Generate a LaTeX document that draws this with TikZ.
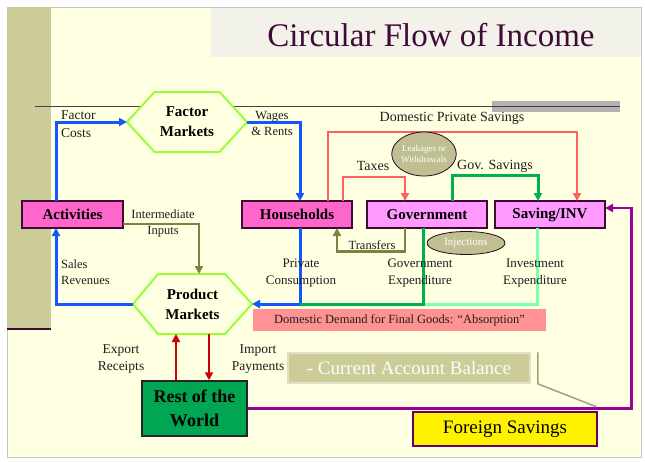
\documentclass[tikz,border=0pt]{standalone}
\usepackage{fontspec}
\setmainfont{Liberation Serif}
\usetikzlibrary{arrows.meta,shapes.geometric,backgrounds}

\definecolor{bg}{RGB}{255,255,225}
\definecolor{barc}{RGB}{204,204,153}
\definecolor{titlebg}{RGB}{242,242,234}
\definecolor{titlec}{RGB}{64,10,56}
\definecolor{rulec}{RGB}{96,48,80}
\definecolor{blue1}{RGB}{20,85,255}
\definecolor{hexc}{RGB}{153,255,51}
\definecolor{mag1}{RGB}{255,102,204}
\definecolor{mag2}{RGB}{255,153,255}
\definecolor{dpurple}{RGB}{60,10,50}
\definecolor{red1}{RGB}{255,96,96}
\definecolor{green1}{RGB}{0,176,80}
\definecolor{green2}{RGB}{120,255,176}
\definecolor{olive1}{RGB}{128,128,64}
\definecolor{pink1}{RGB}{255,147,147}
\definecolor{khaki}{RGB}{204,204,153}
\definecolor{ellc}{RGB}{191,191,145}
\definecolor{rowc}{RGB}{0,166,81}
\definecolor{purp}{RGB}{153,0,153}
\definecolor{fsb}{RGB}{102,0,102}
\definecolor{darkred}{RGB}{204,0,0}
\definecolor{ptr}{RGB}{160,160,130}
\definecolor{txt}{RGB}{30,30,30}

\tikzset{
  lbl/.style={font=\fontsize{13}{16}\selectfont, align=center, inner sep=0pt, text=txt},
  lbll/.style={font=\fontsize{13}{16}\selectfont, align=left, inner sep=0pt, text=txt},
  boxm/.style={draw=dpurple, line width=1.5pt, fill=mag1, minimum height=27pt, inner sep=0pt, outer sep=0pt,
     font=\bfseries\fontsize{15}{18}\selectfont},
  boxv/.style={boxm, fill=mag2},
  hexnode/.style={inner sep=0pt, outer sep=0pt, minimum height=60pt, align=center,
     font=\bfseries\fontsize{15}{20}\selectfont},
  hexline/.style={draw=hexc, line width=2pt, fill=bg, line join=miter},
  tip/.style={-{Triangle[length=8pt,width=8pt]}},
  bluel/.style={tip, draw=blue1, line width=3pt},
  olivel/.style={tip, draw=olive1, line width=2.5pt},
  redl/.style={tip, draw=red1, line width=2.5pt},
  greenl/.style={tip, draw=green1, line width=3pt},
  lgreenl/.style={draw=green2, line width=3pt},
  redarrow/.style={tip, draw=darkred, line width=2pt},
  purpl/.style={tip, draw=purp, line width=2.5pt},
  ptrl/.style={draw=ptr, line width=1.5pt},
  ell/.style={ellipse, draw=dpurple!70!black, line width=0.8pt, fill=ellc, inner sep=0pt, text=white, align=center}
}

\begin{document}
\begin{tikzpicture}[x=1pt,y=-1pt]
\useasboundingbox (0,0) rectangle (645,461);

% ---- hexagon text nodes
\node[hexnode, minimum width=120pt] (fm) at (187,122) {Factor\\Markets};
\node[hexnode, minimum width=119pt] (pm) at (192.5,304) {Product\\Markets};

\begin{scope}[on background layer]
  \fill[white] (0,0) rectangle (645,461);
  \draw[fill=bg, draw=gray!45, line width=1pt] (7,7) rectangle (641,457);
  \fill[barc] (7,7) rectangle (51,328);
  \draw[dpurple, line width=2.5pt] (7,329) -- (51,329);
  \fill[titlebg] (211,7.5) rectangle (640.5,57);
  \fill[gray!60] (492,101) rectangle (620,112);
  \draw[rulec, line width=1pt] (35,106) -- (620,106);
  \draw[hexline] (fm.west) -- ([xshift=27.5pt]fm.north west) -- ([xshift=-27.5pt]fm.north east)
     -- (fm.east) -- ([xshift=-27.5pt]fm.south east) -- ([xshift=27.5pt]fm.south west) -- cycle;
  \draw[hexline] (pm.west) -- ([xshift=25pt]pm.north west) -- ([xshift=-27pt]pm.north east)
     -- (pm.east) -- ([xshift=-27pt]pm.south east) -- ([xshift=25pt]pm.south west) -- cycle;
\end{scope}

\node[text=titlec, font=\fontsize{33}{38}\selectfont, inner sep=0pt] (title) at (431,35) {Circular Flow of Income};

% ---- boxes
\node[boxm, minimum width=101pt] (act) at (72.5,214.5) {Activities};
\node[boxm, minimum width=110pt] (hh) at (297,214.5) {Households};
\node[boxv, minimum width=120pt] (gov) at (427,214.5) {Government};
\node[boxv, minimum width=110pt] (sav) at (550,214.5) {Saving/INV};

\node[draw=black!85, line width=1.5pt, fill=rowc, minimum width=105pt, minimum height=55pt, inner sep=0pt,
   align=center, font=\bfseries\fontsize{18}{24}\selectfont] (row) at (194.5,408.5) {Rest of the\\World};
\node[draw=fsb, line width=2.5pt, fill=yellow, minimum width=184pt, minimum height=34pt, inner sep=0pt,
   font=\fontsize{19}{22}\selectfont] (fs) at (505,429) {Foreign Savings};
\node[draw=khaki!60, line width=1.5pt, fill=khaki, minimum width=242pt, minimum height=30pt, inner sep=0pt,
   text=white!96!khaki, font=\fontsize{19}{22}\selectfont] (cab) at (409,368) {- Current Account Balance};
\node[fill=pink1, minimum width=293pt, minimum height=22pt, inner sep=0pt, text=txt,
   font=\fontsize{12.5}{15}\selectfont] (dd) at (399.5,320) {Domestic Demand for Final Goods: “Absorption”};

% ---- connectors
\draw[bluel] ([xshift=-16.5pt]act.north) |- (fm.west);
\draw[bluel] (fm.east) -| ([xshift=3pt]hh.north);
\draw[bluel] ([xshift=3pt]hh.south) |- (pm.east);
\draw[bluel] (pm.west) -| ([xshift=-16.5pt]act.south);
\draw[olivel] ([yshift=-9.5pt]act.east) -| ([xshift=6.5pt]pm.north);
\draw[redl] ([xshift=31pt]hh.north) -- ++(0,-69) -| ([xshift=27pt]sav.north);
\draw[redl] ([xshift=46pt]hh.north) -- ++(0,-24) -| ([xshift=-22pt]gov.north);
\draw[greenl] ([xshift=25pt]gov.north) -- ++(0,-26) -| ([xshift=-12pt]sav.north);
\draw[olivel] ([xshift=-22pt]gov.south) -- ++(0,23.5) -| ([xshift=40pt]hh.south);
\coordinate (hhd) at ([xshift=3pt]hh.south);
\coordinate (gvd) at ([xshift=-4pt]gov.south);
\draw[lgreenl] ([xshift=-13pt]sav.south) |- (gvd |- pm.east);
\draw[greenl, -] (gvd) |- (hhd |- pm.east);
\draw[redarrow] ([xshift=-18.5pt]row.north) -- ([xshift=-16.5pt]pm.south);
\draw[redarrow] ([xshift=16.5pt]pm.south) -- ([xshift=14.5pt]row.north);
\draw[purpl] (row.east) -- ++(383.5,0) |- ([yshift=6.5pt]sav.east);
\draw[ptrl] ([xshift=7pt]cab.north east) -- ([xshift=7pt]cab.south east) -- ([xshift=-2pt,yshift=4pt]fs.north east);

% ---- ellipses
\node[ell, minimum width=64pt, minimum height=44pt, font=\fontsize{9}{11}\selectfont] (leak) at (424,154) {Leakages or\\Withdrawals};
\node[ell, minimum width=78pt, minimum height=23pt, font=\fontsize{11}{13}\selectfont] (inj) at (466,243) {Injections};

% ---- labels
\node[lbll, font=\fontsize{13.5}{18}\selectfont, anchor=west] (lfc) at (61,124) {Factor\\Costs};
\node[lbl, font=\fontsize{12.5}{16}\selectfont] (lwr) at (272,123) {Wages\\\& Rents};
\node[lbl, font=\fontsize{12.5}{16}\selectfont] (lii) at (163,223) {Intermediate\\Inputs};
\node[lbll, font=\fontsize{12.5}{15.5}\selectfont, anchor=west] (lsr) at (61,272) {Sales\\Revenues};
\node[lbl, font=\fontsize{13}{17}\selectfont] (lpc) at (301,273) {Private\\Consumption};
\node[lbl, font=\fontsize{13}{17}\selectfont] (lge) at (420,273) {Government\\Expenditure};
\node[lbl, font=\fontsize{13}{17}\selectfont] (lie) at (535,273) {Investment\\Expenditure};
\node[lbl, font=\fontsize{14}{16}\selectfont] (ldps) at (452,118) {Domestic Private Savings};
\node[lbl, font=\fontsize{14}{16}\selectfont] (ltax) at (373,166) {Taxes};
\node[lbl, font=\fontsize{14}{16}\selectfont] (lgs) at (495,166) {Gov. Savings};
\node[lbl, font=\fontsize{12.5}{15}\selectfont] (ltr) at (372,245) {Transfers};
\node[lbl, font=\fontsize{13.5}{17}\selectfont] (ler) at (121,359) {Export\\Receipts};
\node[lbl, font=\fontsize{13.5}{17}\selectfont] (lip) at (258,359) {Import\\Payments};
\end{tikzpicture}
\end{document}
